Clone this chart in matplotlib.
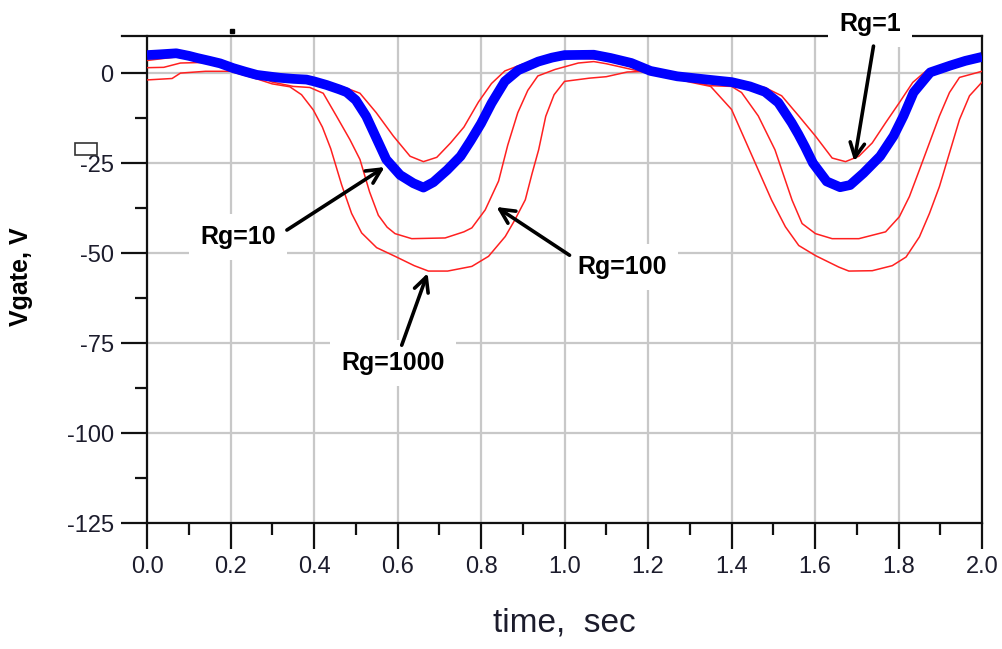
import matplotlib.pyplot as plt
from matplotlib.ticker import MultipleLocator, FormatStrFormatter
from matplotlib.patches import Rectangle

plt.rcParams['font.family'] = ['Liberation Sans', 'DejaVu Sans']
plt.rcParams['axes.unicode_minus'] = False

# gate voltage traces, one per gate resistor (time in s, voltage in V)
t_rg10 = [0.0, 0.03, 0.07, 0.10, 0.12, 0.15, 0.175, 0.206, 0.235, 0.263, 0.29, 0.318,
          0.35, 0.382, 0.40, 0.43, 0.46, 0.478, 0.50, 0.525, 0.549, 0.573, 0.606, 0.638,
          0.662, 0.686, 0.719, 0.751, 0.775, 0.80, 0.825, 0.857, 0.889, 0.937, 0.97, 1.0,
          1.07, 1.11, 1.16, 1.206, 1.27, 1.35, 1.40, 1.444, 1.48, 1.512, 1.544, 1.56,
          1.576, 1.595, 1.628, 1.66, 1.684, 1.716, 1.756, 1.788, 1.812, 1.836, 1.876,
          1.924, 1.96, 2.0]
vg_rg10 = [5.0, 5.2, 5.5, 4.8, 4.2, 3.4, 2.7, 1.4, 0.4, -0.5, -0.9, -1.3,
           -1.6, -1.8, -2.3, -3.3, -4.5, -5.3, -7.5, -12.0, -18.0, -24.0, -28.3, -30.6,
           -31.8, -30.3, -26.9, -23.1, -18.8, -14.0, -8.4, -2.3, 0.8, 3.2, 4.3, 5.0,
           5.1, 4.2, 2.8, 0.6, -0.9, -1.9, -2.5, -3.7, -5.2, -8.2, -13.8, -17.0,
           -20.5, -25.0, -30.1, -31.7, -31.1, -27.8, -23.1, -17.5, -11.9, -5.4, 0.2,
           2.1, 3.4, 4.5]

t_rg1 = [0.0, 0.07, 0.15, 0.25, 0.35, 0.42, 0.46, 0.478, 0.51, 0.549, 0.59, 0.63,
         0.662, 0.694, 0.727, 0.759, 0.794, 0.825, 0.857, 0.90, 0.95, 1.0, 1.1, 1.2,
         1.3, 1.42, 1.48, 1.52, 1.561, 1.601, 1.641, 1.673, 1.705, 1.737, 1.769,
         1.802, 1.834, 1.866, 1.92, 2.0]
vg_rg1 = [3.5, 4.5, 3.0, 0.0, -1.8, -2.5, -3.5, -4.2, -5.6, -11.0, -17.5, -23.1,
          -24.6, -23.4, -19.4, -15.0, -8.0, -2.9, 0.6, 2.5, 3.8, 4.3, 3.8, 0.3,
          -1.4, -2.6, -4.0, -6.3, -11.9, -17.5, -23.6, -24.6, -23.1, -19.4, -13.8,
          -8.2, -2.6, 0.6, 2.8, 4.0]

t_rg100 = [0.0, 0.04, 0.08, 0.15, 0.25, 0.30, 0.35, 0.39, 0.422, 0.454, 0.486, 0.51,
           0.533, 0.554, 0.575, 0.594, 0.634, 0.714, 0.759, 0.778, 0.81, 0.842, 0.864,
           0.888, 0.912, 0.936, 0.977, 1.033, 1.07, 1.1, 1.2, 1.3, 1.35, 1.40, 1.424,
           1.464, 1.504, 1.545, 1.569, 1.601, 1.641, 1.705, 1.769, 1.802, 1.826, 1.85,
           1.874, 1.898, 1.922, 1.946, 2.0]
vg_rg100 = [1.5, 1.6, 2.8, 3.0, 0.0, -2.5, -3.7, -4.0, -5.6, -12.0, -18.5, -24.0,
            -33.0, -39.5, -42.8, -44.6, -46.0, -45.8, -44.1, -43.0, -38.0, -30.0, -20.0,
            -11.0, -4.8, -0.8, 1.0, 2.8, 3.2, 2.6, 0.0, -2.2, -3.5, -3.7, -5.4,
            -11.9, -21.3, -35.3, -41.8, -44.6, -46.0, -46.0, -44.1, -39.9, -34.3, -26.9,
            -19.4, -11.9, -5.4, -1.2, 0.5]

t_rg1000 = [0.0, 0.06, 0.08, 0.14, 0.2, 0.26, 0.30, 0.342, 0.37, 0.398, 0.42, 0.44,
            0.466, 0.49, 0.514, 0.55, 0.594, 0.64, 0.674, 0.72, 0.778, 0.818, 0.858,
            0.88, 0.906, 0.922, 0.938, 0.955, 0.975, 1.0, 1.06, 1.1, 1.15, 1.2, 1.3,
            1.35, 1.4, 1.432, 1.464, 1.496, 1.529, 1.561, 1.601, 1.657, 1.681, 1.737,
            1.785, 1.818, 1.85, 1.874, 1.898, 1.922, 1.946, 1.97, 2.0]
vg_rg1000 = [-1.9, -1.5, 0.0, 0.5, 0.5, -1.5, -3.0, -3.8, -6.0, -10.2, -15.0, -21.0,
             -31.0, -39.0, -44.4, -48.5, -50.9, -53.5, -55.0, -55.0, -53.7, -50.9, -45.4,
             -41.0, -35.2, -28.0, -21.3, -12.0, -6.0, -2.3, -1.4, -1.0, 0.3, 0.5, -2.5,
             -3.7, -10.1, -18.5, -26.9, -35.3, -42.7, -47.9, -50.7, -53.9, -55.0, -54.9,
             -53.5, -51.1, -45.5, -39.0, -31.5, -22.2, -12.9, -6.3, -2.5]

# arrow labels: (text, text position, arrow tail, arrow tip)
labels = [
    ("Rg=1", (1.732, 13.6), (1.74, 7.5), (1.694, -24.5)),
    ("Rg=10", (0.218, -45.6), (0.335, -43.6), (0.569, -26.1)),
    ("Rg=100", (1.137, -53.9), (1.012, -50.6), (0.837, -37.2)),
    ("Rg=1000", (0.589, -80.6), (0.61, -75.6), (0.672, -55.6)),
]

fig = plt.figure(figsize=(10.03, 6.49), dpi=100)
ax = fig.add_axes([0.1466, 0.1941, 0.8325, 0.7504])

for t, v in [(t_rg1, vg_rg1), (t_rg100, vg_rg100), (t_rg1000, vg_rg1000)]:
    ax.plot(t, v, color='#ff2020', lw=1.1, zorder=4)
ax.plot(t_rg10, vg_rg10, color='#0000ff', lw=7, zorder=5, solid_capstyle='butt')

ax.set_xlim(0, 2.0)
ax.set_ylim(-125, 10.3)
ax.xaxis.set_major_locator(MultipleLocator(0.2))
ax.xaxis.set_minor_locator(MultipleLocator(0.1))
ax.xaxis.set_major_formatter(FormatStrFormatter('%.1f'))
ax.yaxis.set_major_locator(MultipleLocator(25))
ax.yaxis.set_minor_locator(MultipleLocator(12.5))

ax.set_axisbelow(True)
ax.grid(True, which='major', color='#c8c8c8', lw=1.6)
ax.tick_params(which='major', direction='out', length=19, width=1.6, color='#111111',
               labelsize=17, labelcolor='#1c1c2c', pad=5)
ax.tick_params(which='minor', direction='out', length=8.5, width=1.6, color='#111111')
for side in ['left', 'bottom', 'right', 'top']:
    ax.spines[side].set_linewidth(1.6)
    ax.spines[side].set_color('#111111')
ax.spines['top'].set_visible(False)
# top border runs out past the left axis like a tick
ax.plot([-0.03, 1], [1, 1], transform=ax.transAxes, color='#111111', lw=1.6,
        clip_on=False, zorder=2.5)
ax.plot([0.203], [11.6], marker='s', ms=3, color='k', clip_on=False, zorder=2.5)

ax.set_xlabel("time,  sec", fontsize=24, color='#1c1c2c')
ax.xaxis.set_label_coords(0.5, -0.174)
ax.set_ylabel("Vgate, V", fontsize=18, fontweight='bold')
ax.yaxis.set_label_coords(-0.137, 0.505)

for text, pos, tail, tip in labels:
    ax.text(pos[0], pos[1], text, fontsize=18, fontweight='bold', ha='center',
            va='center', zorder=6, clip_on=False,
            bbox=dict(boxstyle='square,pad=0.45', fc='white', ec='none'))
    ax.annotate('', xy=tip, xytext=tail, zorder=7,
                arrowprops=dict(arrowstyle='->', lw=2.6, color='k',
                                mutation_scale=26, shrinkA=0, shrinkB=0))

fig.add_artist(Rectangle((0.0748, 0.761), 0.0219, 0.0185, transform=fig.transFigure,
                         fill=False, ec='#333333', lw=1.2))

fig.savefig('out.png', dpi=100)
